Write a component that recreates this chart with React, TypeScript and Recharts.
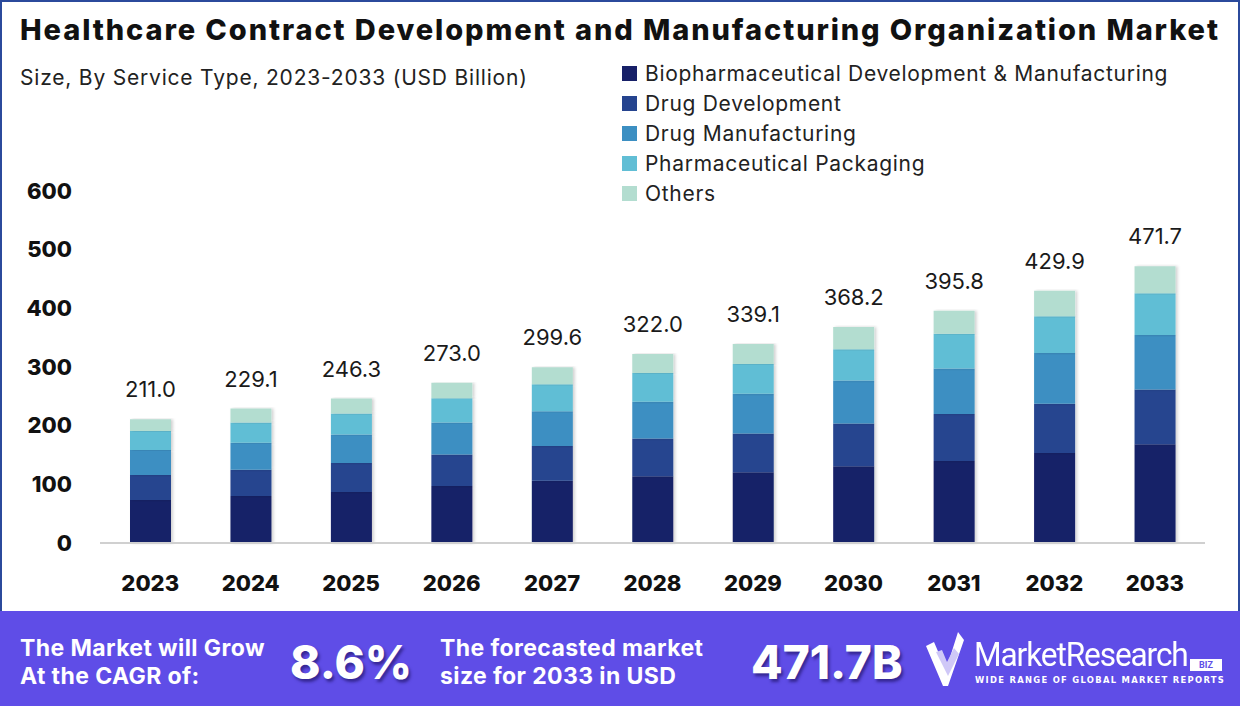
import { Bar, BarChart, LabelList, XAxis, YAxis } from "recharts";

// Healthcare CDMO market, by service type (USD Billion)
const years = ["2023", "2024", "2025", "2026", "2027", "2028", "2029", "2030", "2031", "2032", "2033"];
const biopharma = [73.4, 80.0, 87.0, 97.0, 106.0, 113.6, 120.4, 131.0, 139.6, 153.3, 168.3];
const drugDevelopment = [42.6, 45.0, 49.2, 54.0, 59.3, 64.4, 66.1, 72.9, 80.3, 84.1, 93.2];
const drugManufacturing = [42.6, 46.0, 48.6, 54.5, 59.3, 62.7, 67.8, 72.9, 77.6, 86.3, 93.2];
const packaging = [32.4, 34.5, 36.0, 41.3, 46.0, 49.1, 50.9, 53.6, 59.3, 62.6, 71.2];
const others = [20.0, 23.6, 25.5, 26.2, 29.0, 32.2, 33.9, 37.8, 39.0, 43.6, 45.8];
const totals = [211.0, 229.1, 246.3, 273.0, 299.6, 322.0, 339.1, 368.2, 395.8, 429.9, 471.7];
const yTicks = [0, 100, 200, 300, 400, 500, 600];

const SERIES = [
  { key: "bio", name: "Biopharmaceutical Development & Manufacturing", color: "#172068", values: biopharma },
  { key: "dev", name: "Drug Development", color: "#25448f", values: drugDevelopment },
  { key: "mfg", name: "Drug Manufacturing", color: "#3c8fc2", values: drugManufacturing },
  { key: "pkg", name: "Pharmaceutical Packaging", color: "#61bed5", values: packaging },
  { key: "oth", name: "Others", color: "#b3ddd0", values: others },
];

const data = years.map((year, i) => {
  const row: Record<string, string | number> = { year, total: totals[i] };
  SERIES.forEach((s) => {
    row[s.key] = s.values[i];
  });
  return row;
});

const FONT = "Inter, 'Open Sans', sans-serif";
const FOOTER_BG = "#5f4de7";

function Logo() {
  return (
    <div style={{ position: "absolute", left: 924, top: 630, width: 310, height: 60 }}>
      {/* double chevron / tick mark */}
      <svg width={46} height={58} style={{ position: "absolute", left: 0, top: 0 }}>
        <polygon points="2,16 10,12 22,40 34,2 40,10 24,56 19,56" fill="#ffffff" />
        <polygon points="12,22 18,20 23,32 30,18 35,24 24,46" fill="#cfc8f7" />
      </svg>
      <div
        style={{
          position: "absolute",
          left: 50,
          top: 4,
          color: "#fff",
          fontFamily: "'Roboto', sans-serif",
          fontSize: 34,
          letterSpacing: -1.2,
          transform: "scaleX(0.93)",
          transformOrigin: "left center",
          whiteSpace: "nowrap",
        }}
      >
        MarketResearch
      </div>
      <div
        style={{
          position: "absolute",
          left: 266,
          top: 29,
          width: 32,
          height: 12,
          background: "#fff",
          color: FOOTER_BG,
          fontFamily: "'Roboto', sans-serif",
          fontWeight: 700,
          fontSize: 9,
          lineHeight: "12px",
          textAlign: "center",
        }}
      >
        BIZ
      </div>
      <div
        style={{
          position: "absolute",
          left: 51,
          top: 45,
          color: "#fff",
          fontFamily: "'DejaVu Sans', sans-serif",
          fontWeight: 700,
          fontSize: 8.4,
          letterSpacing: 1.3,
          whiteSpace: "nowrap",
        }}
      >
        WIDE RANGE OF GLOBAL MARKET REPORTS
      </div>
    </div>
  );
}

export default function App() {
  const footerText = {
    position: "absolute" as const,
    color: "#fff",
    fontFamily: FONT,
    fontWeight: 700,
    fontSize: 23,
    letterSpacing: 0.4,
    lineHeight: "28px",
    whiteSpace: "nowrap" as const,
  };
  const bigText = {
    position: "absolute" as const,
    color: "#fff",
    fontFamily: FONT,
    fontWeight: 800,
    fontSize: 46,
    lineHeight: "56px",
    textShadow: "2px 3px 3px rgba(20,10,80,0.55)",
    whiteSpace: "nowrap" as const,
  };

  return (
    <div style={{ position: "relative", width: 1240, height: 706, overflow: "hidden", background: "#fff", fontFamily: FONT }}>
      <style>{`body{margin:0}`}</style>
      {/* frame round the white part */}
      <div
        style={{
          position: "absolute",
          left: 0,
          top: 0,
          width: 1240,
          height: 611,
          boxSizing: "border-box",
          border: "2px solid #2b4a9c",
          borderBottom: "none",
        }}
      />
      <div
        style={{
          position: "absolute",
          left: 20,
          top: 12,
          fontSize: 29,
          letterSpacing: 1.9,
          fontWeight: 800,
          color: "#111",
          whiteSpace: "nowrap",
        }}
      >
        Healthcare Contract Development and Manufacturing Organization Market
      </div>
      <div
        style={{
          position: "absolute",
          left: 20,
          top: 65,
          fontSize: 21,
          letterSpacing: 0.8,
          color: "#222",
          whiteSpace: "nowrap",
        }}
      >
        Size, By Service Type, 2023-2033 (USD Billion)
      </div>

      <div style={{ position: "absolute", left: 622, top: 58 }}>
        {SERIES.map((s) => (
          <div key={s.key} style={{ display: "flex", alignItems: "center", height: 30 }}>
            <span style={{ display: "inline-block", width: 15, height: 15, background: s.color, marginRight: 8 }} />
            <span style={{ fontSize: 21, letterSpacing: 0.7, color: "#222", whiteSpace: "nowrap" }}>{s.name}</span>
          </div>
        ))}
      </div>

      <div style={{ position: "absolute", left: 0, top: 0 }}>
        <BarChart
          width={1240}
          height={611}
          data={data}
          margin={{ top: 191, right: 35, bottom: 0, left: 0 }}
          barSize={41}
        >
          <defs>
            <filter id="barShadow" x="-20%" y="-5%" width="140%" height="110%">
              <feDropShadow dx="2" dy="0" stdDeviation="1.5" floodColor="#000" floodOpacity="0.18" />
            </filter>
          </defs>
          <XAxis
            dataKey="year"
            height={68}
            tickLine={false}
            tickSize={0}
            tickMargin={32}
            axisLine={{ stroke: "#d0d0d0", strokeWidth: 2 }}
            tick={{ fontSize: 22, fontWeight: 800, fill: "#111", fontFamily: FONT }}
            interval={0}
          />
          <YAxis
            width={100}
            domain={[0, 600]}
            ticks={yTicks}
            axisLine={false}
            tickLine={false}
            tickSize={0}
            tickMargin={28}
            tick={{ fontSize: 22, fontWeight: 800, fill: "#111", fontFamily: FONT }}
          />
          {SERIES.map((s, idx) => (
            <Bar
              key={s.key}
              dataKey={s.key}
              name={s.name}
              stackId="a"
              fill={s.color}
              filter="url(#barShadow)"
              isAnimationActive={false}
            >
              {idx === SERIES.length - 1 ? (
                <LabelList
                  dataKey="total"
                  position="top"
                  offset={22}
                  formatter={(v: number) => Number(v).toFixed(1)}
                  style={{ fontSize: 22, fill: "#1a1a1a", fontFamily: FONT, filter: "none" }}
                />
              ) : null}
            </Bar>
          ))}
        </BarChart>
      </div>

      {/* footer band */}
      <div style={{ position: "absolute", left: 0, top: 611, width: 1240, height: 95, background: FOOTER_BG }} />
      <div style={{ ...footerText, left: 20, top: 634 }}>
        The Market will Grow
        <br />
        At the CAGR of:
      </div>
      <div style={{ ...bigText, left: 290, top: 634 }}>8.6%</div>
      <div style={{ ...footerText, left: 440, top: 634 }}>
        The forecasted market
        <br />
        size for 2033 in USD
      </div>
      <div style={{ ...bigText, left: 751, top: 634 }}>471.7B</div>
      <Logo />
    </div>
  );
}
